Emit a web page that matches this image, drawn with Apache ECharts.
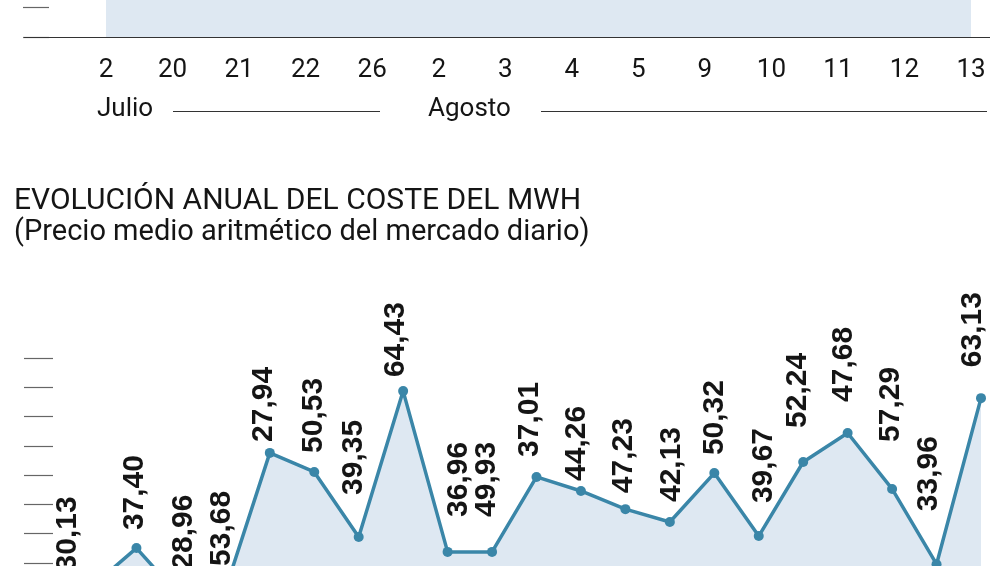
<!DOCTYPE html>
<html>
<head>
<meta charset="utf-8">
<script src="https://cdn.jsdelivr.net/npm/echarts@6/dist/echarts.min.js"></script>
<style>
  html, body { margin: 0; padding: 0; background: #fff; }
  #chart { width: 1006px; height: 566px; }
</style>
</head>
<body>
<div id="chart"></div>
<script>
// Gráfico superior: solo se ve el pie (días de julio y agosto)
const diasTop = ['2', '20', '21', '22', '26', '2', '3', '4', '5', '9', '10', '11', '12', '13'];
// la línea queda por encima del recorte, solo se ve el relleno
const valoresTop = [38, 42, 35, 40, 44, 36, 39, 41, 37, 43, 40, 38, 42, 45];
const meses = ['Julio', 'Agosto'];

// Evolución anual del coste del MWh
const anios = ['2002', '2003', '2004', '2005', '2006', '2007', '2008', '2009', '2010', '2011', '2012',
  '2013', '2014', '2015', '2016', '2017', '2018', '2019', '2020', '2021', '2022'];
const valores = [12, 25.1, 8.2, 10.8, 57.6, 51.1, 28.9, 78.7, 23.8, 23.8, 49.4,
  44.6, 38.4, 34.0, 50.7, 29.2, 54.5, 64.4, 45.3, 19.6, 76.3];
const etiquetas = ['30,13', '37,40', '28,96', '53,68', '27,94', '50,53', '39,35', '64,43', '36,96', '49,93', '37,01',
  '44,26', '47,23', '42,13', '50,32', '39,67', '52,24', '47,68', '57,29', '33,96', '63,13'];

// colocación de cada etiqueta respecto a su punto (px)
const labelGap = [10, 13, 23, 19, 6, 14, 37, 9, 30, 30, 15, 5, 11, 15, 13, 28, 29, 26, 42, 48, 26];
const labelDx = [-24, -2, 3, -4, -6, -1, -5, -7, 11, -5, -7, -4, -2, 2, 0, 5, -5, -4, -1, -8, -8];

const azul = '#3a86a8';
const relleno = '#dee8f2';
const negro = '#151515';
const fuente = 'Roboto';

(function () {
  const myChart = echarts.init(document.getElementById('chart'));
  const option = {
    animation: false,
    title: [
      {
        text: 'EVOLUCIÓN ANUAL DEL COSTE DEL MWH',
        left: 14,
        top: 186,
        padding: 0,
        textStyle: { fontFamily: fuente, fontSize: 30, fontWeight: 'normal', color: negro }
      },
      {
        text: '(Precio medio aritmético del mercado diario)',
        left: 14,
        top: 218,
        padding: 0,
        textStyle: { fontFamily: fuente, fontSize: 29, fontWeight: 'normal', color: negro }
      }
    ],
    grid: [
      { left: 106, right: 35, top: -263, height: 300, outerBoundsMode: 'none' },
      { left: 92, right: 25, top: 358, height: 263.6, outerBoundsMode: 'none' }
    ],
    xAxis: [
      {
        gridIndex: 0,
        type: 'category',
        data: diasTop,
        boundaryGap: false,
        axisLine: { show: false },
        axisTick: { show: false },
        axisLabel: {
          color: negro,
          fontFamily: fuente,
          fontSize: 26,
          margin: 20,
          interval: 0
        }
      },
      {
        gridIndex: 1,
        type: 'category',
        data: anios,
        boundaryGap: false,
        show: false
      }
    ],
    yAxis: [
      {
        gridIndex: 0,
        type: 'value',
        min: 0,
        max: 100,
        interval: 10,
        offset: 57,
        axisLine: { show: false },
        axisLabel: { show: false },
        splitLine: { show: false },
        axisTick: { show: true, length: 26, lineStyle: { color: '#666', width: 1.2 } }
      },
      {
        gridIndex: 1,
        type: 'value',
        min: 0,
        max: 90,
        interval: 10,
        offset: 39,
        axisLine: { show: false },
        axisLabel: { show: false },
        splitLine: { show: false },
        axisTick: { show: true, length: 29, lineStyle: { color: '#666', width: 1.2 } }
      }
    ],
    series: [
      {
        type: 'line',
        xAxisIndex: 0,
        yAxisIndex: 0,
        data: valoresTop,
        symbol: 'none',
        lineStyle: { color: azul, width: 3.5 },
        areaStyle: { color: relleno, opacity: 1 }
      },
      {
        type: 'line',
        xAxisIndex: 1,
        yAxisIndex: 1,
        // la etiqueta va girada: el desplazamiento horizontal es el segundo valor
        data: valores.map((v, i) => ({
          value: v,
          label: { distance: labelGap[i], offset: [0, labelDx[i]] }
        })),
        symbol: 'circle',
        symbolSize: 10,
        lineStyle: { color: azul, width: 3.5 },
        itemStyle: { color: azul },
        areaStyle: { color: relleno, opacity: 1 },
        label: {
          show: true,
          position: 'top',
          rotate: 90,
          align: 'left',
          verticalAlign: 'middle',
          formatter: (p) => etiquetas[p.dataIndex],
          fontFamily: 'Liberation Sans',
          fontWeight: 'bold',
          fontSize: 30,
          color: negro
        }
      }
    ],
    graphic: [
      { type: 'line', z: 100, shape: { x1: 24, y1: 37.5, x2: 990, y2: 37.5 }, style: { stroke: '#333', lineWidth: 1.2 } },
      { type: 'text', left: 97, top: 96, style: { text: meses[0], font: '26px ' + fuente, fill: negro } },
      { type: 'line', shape: { x1: 173, y1: 111.5, x2: 380, y2: 111.5 }, style: { stroke: '#333', lineWidth: 1.2 } },
      { type: 'text', left: 428, top: 96, style: { text: meses[1], font: '26px ' + fuente, fill: negro } },
      { type: 'line', shape: { x1: 541, y1: 111.5, x2: 987, y2: 111.5 }, style: { stroke: '#333', lineWidth: 1.2 } }
    ]
  };
  myChart.setOption(option);

  window.addEventListener('resize', () => {
    myChart.resize();
  });
})();
</script>
</body>
</html>
